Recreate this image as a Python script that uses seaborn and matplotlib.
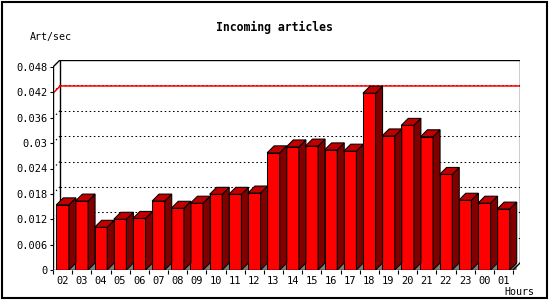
import numpy as np
import pandas as pd
import seaborn as sns
import matplotlib.pyplot as plt
from matplotlib.patches import Rectangle

# datos
horas = ['02', '03', '04', '05', '06', '07', '08', '09', '10', '11', '12', '13',
         '14', '15', '16', '17', '18', '19', '20', '21', '22', '23', '00', '01']
art_sec = [0.0154, 0.0163, 0.0101, 0.0120, 0.0122, 0.0163, 0.0146, 0.0158,
           0.0179, 0.0179, 0.0182, 0.0277, 0.0291, 0.0293, 0.0284, 0.0281,
           0.0418, 0.0317, 0.0342, 0.0315, 0.0226, 0.0165, 0.0158, 0.0144]
y_ticks = [0, 0.006, 0.012, 0.018, 0.024, 0.03, 0.036, 0.042, 0.048]
y_labels = ['0', '0.006', '0.012', '0.018', '0.024', '0.03', '0.036', '0.042', '0.048']

df = pd.DataFrame({'hora': horas, 'valor': art_sec})

sns.set_style('white')
plt.rcParams['font.family'] = ['DejaVu Sans Mono']
plt.rcParams['text.color'] = 'black'
plt.rcParams['xtick.color'] = 'black'
plt.rcParams['ytick.color'] = 'black'

W, H = 550, 300
fig = plt.figure(figsize=(5.5, 3.0), dpi=100)
ax = fig.add_axes([53 / W, 30 / H, 467 / W, 210 / H])

# profundidad 3D (7 px) en unidades de datos
cat_px = 460 / 24
dx = 7 / cat_px
ytop = 0.048 * 210 / 203
dy = 7 * ytop / 210

# barras frontales
sns.barplot(data=df, x='hora', y='valor', order=horas, color='#ff0000',
            saturation=1, width=0.66, edgecolor='black', linewidth=0.75,
            ax=ax, zorder=3)

x0, x1 = -0.5, len(horas) - 0.5

# lineas de la rejilla en el plano del fondo
for v in y_ticks[1:-1]:
    ax.plot([x0 + dx, x1 + dx], [v + dy, v + dy], color='black', lw=0.75,
            ls=(0, (1.5, 2.5)), zorder=1)
    ax.plot([x0, x0 + dx], [v, v + dy], color='black', lw=0.75,
            ls=(0, (1.5, 2.5)), zorder=1)

# linea del maximo
vmax = max(art_sec)
ax.plot([x0 + dx, x1 + dx], [vmax + dy, vmax + dy], color='red', lw=1.1, zorder=1.5)
ax.plot([x0, x0 + dx], [vmax, vmax + dy], color='red', lw=1.1, zorder=1.5)

# caras laterales, superiores y sombra
for bar in ax.patches[:len(horas)]:
    l = bar.get_x()
    r = l + bar.get_width()
    v = bar.get_height()
    ax.fill([r, r + dx, r + dx], [0, dy, 0], color='#808080', lw=0, zorder=2)
    ax.fill([r, r, r + dx, r + dx], [0, v, v + dy, dy], facecolor='#800000',
            edgecolor='black', lw=0.75, zorder=3)
    ax.fill([l, l + dx, r + dx, r], [v, v + dy, v + dy, v], facecolor='#c00000',
            edgecolor='black', lw=0.75, zorder=3)

# caja
k = dict(color='black', lw=1, zorder=4, solid_capstyle='projecting')
ax.plot([x0, x0], [0, 0.048], **k)
ax.plot([x0, x1], [0, 0], **k)
ax.plot([x0, x0 + dx], [0.048, ytop], **k)
ax.plot([x0 + dx, x1 + dx], [ytop, ytop], **k)
ax.plot([x1 + dx, x1 + dx], [dy, ytop], **k)
ax.plot([x1, x1 + dx], [0, dy], **k)
ax.plot([x0 + dx, x0 + dx], [dy, ytop], color='black', lw=1, zorder=1)

ax.set_xlim(x0, x1 + dx)
ax.set_ylim(0, ytop)
for s in ax.spines.values():
    s.set_visible(False)

ax.set_yticks(y_ticks)
ax.set_yticklabels(y_labels)
ax.set_xticks(range(len(horas)))
ax.set_xticklabels(horas)
ax.set_xticks(np.arange(len(horas) + 1) - 0.5, minor=True)
ax.tick_params(axis='y', length=2.5, width=0.8, pad=1.5, labelsize=7.5, left=True)
ax.tick_params(axis='x', which='major', length=0, pad=4.5, labelsize=7.5)
ax.tick_params(axis='x', which='minor', length=3, width=0.8, bottom=True)
ax.set_xlabel('')
ax.set_ylabel('')

fig.text(274 / W, 1 - 27 / H, 'Incoming articles', ha='center', va='center',
         fontsize=8.3, fontweight='bold')
fig.text(30 / W, 1 - 37 / H, 'Art/sec', ha='left', va='center', fontsize=7.2)
fig.text(534 / W, 1 - 292 / H, 'Hours', ha='right', va='center', fontsize=7.2)

# marco de la figura
fig.add_artist(Rectangle((1.5 / W, 2 / H), 545.5 / W, 296.5 / H,
                         transform=fig.transFigure, fill=False,
                         edgecolor='black', lw=1.5))

plt.savefig('out.png', dpi=100)
